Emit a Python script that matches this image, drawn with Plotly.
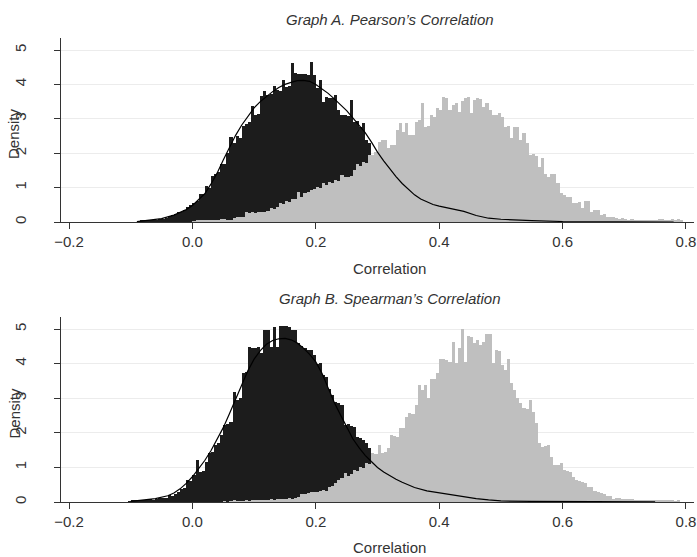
import plotly.graph_objects as go

BIN_W = 0.005

# ---------------- Graph A (Pearson) ----------------
a_black_start = -0.090
a_black = [0.02, 0.03, 0.03, 0.05, 0.06, 0.04, 0.07, 0.10, 0.09, 0.12,
           0.18, 0.20, 0.22, 0.30, 0.28, 0.34, 0.45, 0.48, 0.55, 0.60,
           0.82, 0.80, 1.04, 1.00, 1.35, 1.40, 1.45, 1.70, 1.68, 2.00,
           2.47, 2.30, 2.50, 2.45, 2.80, 2.85, 2.90, 3.37, 3.10, 3.15,
           3.65, 3.80, 3.70, 3.72, 3.95, 3.85, 3.80, 4.12, 3.93, 3.95,
           4.63, 4.34, 4.30, 4.29, 4.30, 4.28, 4.64, 4.27, 3.90, 4.13,
           3.50, 3.64, 3.60, 3.62, 3.69, 3.25, 3.10, 3.12, 3.08, 3.55,
           2.92, 2.95, 2.77, 2.87, 2.38, 2.30]

a_gray_start = 0.000
a_gray = [0.02, 0.03, 0.05, 0.04, 0.05, 0.06, 0.05, 0.07, 0.05, 0.10,
          0.08, 0.06, 0.07, 0.12, 0.15, 0.16, 0.14, 0.30, 0.27, 0.28,
          0.26, 0.29, 0.30, 0.28, 0.33, 0.40, 0.38, 0.45, 0.55, 0.52,
          0.60, 0.58, 0.67, 0.66, 0.88, 0.72, 0.84, 0.86, 0.93, 0.95,
          1.03, 0.98, 1.12, 1.08, 1.17, 1.13, 1.22, 1.20, 1.36, 1.30,
          1.32, 1.34, 1.50, 1.70, 1.62, 1.75, 1.73, 1.95, 1.95, 2.05,
          2.33, 2.38, 2.38, 2.14, 2.24, 2.24, 2.68, 2.87, 2.63, 2.87,
          2.53, 2.53, 2.92, 2.98, 3.45, 2.77, 2.80, 3.10, 3.06, 3.32,
          3.25, 3.64, 3.60, 3.25, 3.40, 3.45, 3.20, 3.53, 3.60, 3.64,
          3.16, 3.55, 3.60, 3.58, 3.35, 3.45, 3.25, 3.10, 3.12, 3.16,
          3.06, 2.77, 2.80, 2.43, 2.77, 2.75, 2.38, 2.58, 2.29, 1.95,
          1.97, 1.92, 1.60, 1.85, 1.41, 1.32, 1.41, 1.40, 1.12, 0.83,
          0.78, 0.74, 0.72, 0.54, 0.56, 0.59, 0.40, 0.62, 0.60, 0.30,
          0.35, 0.34, 0.21, 0.22, 0.16, 0.15, 0.14, 0.13, 0.10, 0.11,
          0.09, 0.07, 0.08, 0.06, 0.07, 0.05, 0.06, 0.05, 0.04, 0.05,
          0.04, 0.09, 0.08, 0.07, 0.06, 0.08, 0.05, 0.09, 0.04]

a_kde_x = [-0.09, -0.07, -0.05, -0.03, -0.01, 0.00, 0.01, 0.02, 0.03, 0.04,
           0.05, 0.06, 0.07, 0.08, 0.09, 0.10, 0.11, 0.12, 0.13, 0.14,
           0.15, 0.16, 0.17, 0.18, 0.19, 0.20, 0.21, 0.22, 0.23, 0.24,
           0.25, 0.26, 0.27, 0.28, 0.29, 0.30, 0.31, 0.32, 0.33, 0.34,
           0.35, 0.36, 0.37, 0.38, 0.39, 0.40, 0.42, 0.44, 0.46, 0.48,
           0.50, 0.52, 0.55, 0.60, 0.65, 0.70, 0.75, 0.78]
a_kde_y = [0.01, 0.05, 0.10, 0.20, 0.36, 0.48, 0.64, 0.82, 1.10, 1.42,
           1.80, 2.18, 2.52, 2.82, 3.08, 3.32, 3.50, 3.65, 3.79, 3.91,
           4.00, 4.06, 4.11, 4.12, 4.09, 4.00, 3.88, 3.74, 3.58, 3.42,
           3.24, 3.03, 2.82, 2.60, 2.33, 2.03, 1.78, 1.54, 1.32, 1.12,
           0.94, 0.79, 0.67, 0.58, 0.51, 0.46, 0.39, 0.31, 0.19, 0.11,
           0.08, 0.06, 0.04, 0.015, 0.006, 0.003, 0.001, 0.0]

# ---------------- Graph B (Spearman) ----------------
b_black_start = -0.105
b_black = [0.02, 0.04, 0.05, 0.05, 0.04, 0.06, 0.05, 0.08, 0.07, 0.09,
           0.12, 0.11, 0.13, 0.19, 0.18, 0.22, 0.29, 0.39, 0.40, 0.63,
           0.60, 0.77, 1.21, 0.87, 0.90, 1.17, 1.41, 1.45, 1.65, 1.70,
           1.94, 2.23, 2.27, 2.30, 3.19, 2.95, 3.00, 3.72, 3.77, 4.49,
           4.44, 4.44, 4.49, 4.30, 4.97, 4.97, 4.49, 5.05, 4.49, 5.08,
           5.10, 5.10, 5.06, 4.97, 4.97, 4.59, 4.50, 4.44, 4.40, 4.39,
           4.25, 4.00, 4.02, 3.67, 3.62, 3.28, 3.10, 2.90, 2.85, 2.80,
           2.22, 2.25, 2.20, 2.18, 1.89, 1.85, 1.79, 1.70, 1.55]

b_gray_start = 0.050
b_gray = [0.01, 0.00, 0.02, 0.03, 0.02, 0.01, 0.02, 0.03, 0.02, 0.03,
          0.04, 0.05, 0.06, 0.05, 0.07, 0.08, 0.06, 0.09, 0.08, 0.10,
          0.09, 0.12, 0.10, 0.13, 0.15, 0.22, 0.24, 0.27, 0.30, 0.28,
          0.30, 0.32, 0.35, 0.33, 0.44, 0.46, 0.55, 0.64, 0.70, 0.83,
          0.75, 0.80, 0.93, 0.90, 1.02, 0.98, 1.12, 1.10, 1.41, 1.38,
          1.65, 1.41, 1.45, 1.55, 1.94, 1.90, 1.89, 2.13, 2.15, 2.47,
          2.56, 2.55, 2.80, 3.38, 3.23, 3.38, 3.00, 3.57, 3.55, 3.72,
          4.13, 4.13, 4.10, 4.06, 4.64, 4.01, 4.44, 4.99, 4.06, 4.80,
          4.78, 4.59, 4.68, 4.54, 4.64, 4.87, 4.85, 4.01, 4.39, 4.37,
          3.96, 3.81, 4.15, 3.43, 3.23, 3.00, 2.85, 2.71, 2.70, 2.95,
          2.61, 2.28, 1.70, 1.60, 1.62, 1.65, 1.31, 1.07, 1.08, 1.12,
          0.92, 0.90, 0.87, 0.73, 0.63, 0.62, 0.58, 0.54, 0.44, 0.43,
          0.33, 0.30, 0.25, 0.24, 0.17, 0.16, 0.10, 0.12, 0.12, 0.08,
          0.09, 0.08, 0.10, 0.05, 0.06, 0.05, 0.04, 0.05, 0.06, 0.07,
          0.04, 0.03, 0.04, 0.03, 0.03, 0.04, 0.02, 0.03]

b_kde_x = [-0.10, -0.08, -0.06, -0.04, -0.03, -0.02, -0.01, 0.00, 0.01, 0.02,
           0.03, 0.04, 0.05, 0.06, 0.07, 0.08, 0.09, 0.10, 0.11, 0.12,
           0.13, 0.14, 0.15, 0.16, 0.17, 0.18, 0.19, 0.20, 0.21, 0.22,
           0.23, 0.24, 0.25, 0.26, 0.27, 0.28, 0.29, 0.30, 0.31, 0.32,
           0.33, 0.34, 0.35, 0.36, 0.38, 0.40, 0.42, 0.44, 0.46, 0.48,
           0.50, 0.55, 0.60, 0.65, 0.70, 0.75]
b_kde_y = [0.02, 0.05, 0.10, 0.18, 0.26, 0.38, 0.54, 0.73, 0.95, 1.20,
           1.48, 1.80, 2.15, 2.55, 2.98, 3.40, 3.80, 4.13, 4.38, 4.56,
           4.67, 4.72, 4.73, 4.69, 4.60, 4.45, 4.27, 4.05, 3.72, 3.30,
           2.88, 2.52, 2.15, 1.83, 1.57, 1.35, 1.17, 1.00, 0.87, 0.76,
           0.66, 0.57, 0.49, 0.42, 0.32, 0.26, 0.20, 0.15, 0.10, 0.06,
           0.03, 0.02, 0.01, 0.005, 0.003, 0.001]

x_ticks = [-0.2, 0.0, 0.2, 0.4, 0.6, 0.8]
y_ticks = [0, 1, 2, 3, 4, 5]
titles = ["Graph A. Pearson\u2019s Correlation", "Graph B. Spearman\u2019s Correlation"]
x_title = "Correlation"
y_title = "Density"

BLACK = "#1c1c1c"
GRAY = "#bfbfbf"
TXT = "#333333"
FONT = "Liberation Sans"
W, H = 697, 557


def centers(start, vals):
    return [round(start + (i + 0.5) * BIN_W, 5) for i in range(len(vals))]


fig = go.Figure()
panels = [
    (a_black_start, a_black, a_gray_start, a_gray, a_kde_x, a_kde_y, "x", "y"),
    (b_black_start, b_black, b_gray_start, b_gray, b_kde_x, b_kde_y, "x2", "y2"),
]
for bs, bv, gs, gv, kx, ky, xa, ya in panels:
    fig.add_trace(go.Bar(x=centers(bs, bv), y=bv, width=BIN_W, marker_color=BLACK,
                         marker_line_width=0, xaxis=xa, yaxis=ya, showlegend=False))
    fig.add_trace(go.Bar(x=centers(gs, gv), y=gv, width=BIN_W, marker_color=GRAY,
                         marker_line_width=0, xaxis=xa, yaxis=ya, showlegend=False))
    fig.add_trace(go.Scatter(x=kx, y=ky, mode="lines", line=dict(color="black", width=1.2),
                             xaxis=xa, yaxis=ya, showlegend=False))

# pixel layout of the two plot areas
px_left, px_right = 61, 694
panel_px = [(38, 222), (317, 502)]  # (top, bottom)


def py(p):
    return 1 - p / H


xaxis_common = dict(range=[-0.213, 0.813], domain=[px_left / W, px_right / W],
                    tickvals=x_ticks, tickformat=".1f", ticks="outside", ticklen=6,
                    tickcolor=TXT, showline=True, linecolor=TXT, linewidth=1,
                    showgrid=False, zeroline=False, automargin=False,
                    tickfont=dict(family=FONT, size=15, color=TXT))
yaxis_common = dict(range=[0, 5.35], tickvals=y_ticks, ticks="outside", ticklen=6,
                    tickcolor=TXT, showline=True, linecolor=TXT, linewidth=1,
                    showgrid=True, gridcolor="#ececec", gridwidth=1, zeroline=False,
                    tickangle=-90, ticklabelstandoff=22, automargin=False,
                    tickfont=dict(family=FONT, size=15, color=TXT))

fig.update_layout(
    width=W, height=H, margin=dict(l=0, r=0, t=0, b=0, autoexpand=False),
    paper_bgcolor="white", plot_bgcolor="white",
    barmode="overlay", bargap=0,
    xaxis=dict(**xaxis_common, anchor="y"),
    yaxis=dict(**yaxis_common, anchor="x", domain=[py(panel_px[0][1]), py(panel_px[0][0])]),
    xaxis2=dict(**xaxis_common, anchor="y2"),
    yaxis2=dict(**yaxis_common, anchor="x2", domain=[py(panel_px[1][1]), py(panel_px[1][0])]),
)

annotations = []
title_y = [19, 298]
xlab_y = [268, 547]
for i, (top, bot) in enumerate(panel_px):
    annotations.append(dict(text="<i>" + titles[i] + "</i>", x=390 / W, y=py(title_y[i]),
                            xref="paper", yref="paper", showarrow=False,
                            xanchor="center", yanchor="middle",
                            font=dict(family=FONT, size=15, color=TXT)))
    annotations.append(dict(text=x_title, x=389 / W, y=py(xlab_y[i]),
                            xref="paper", yref="paper", showarrow=False,
                            xanchor="center", yanchor="middle",
                            font=dict(family=FONT, size=15, color=TXT)))
    annotations.append(dict(text=y_title, x=14 / W, y=py((top + bot) / 2 + 3),
                            xref="paper", yref="paper", showarrow=False, textangle=-90,
                            xanchor="center", yanchor="middle",
                            font=dict(family=FONT, size=15, color=TXT)))
fig.update_layout(annotations=annotations)

fig.write_html("out.html", config={"displayModeBar": False},
               post_script="document.body.style.margin='0';document.body.style.overflow='hidden';")
